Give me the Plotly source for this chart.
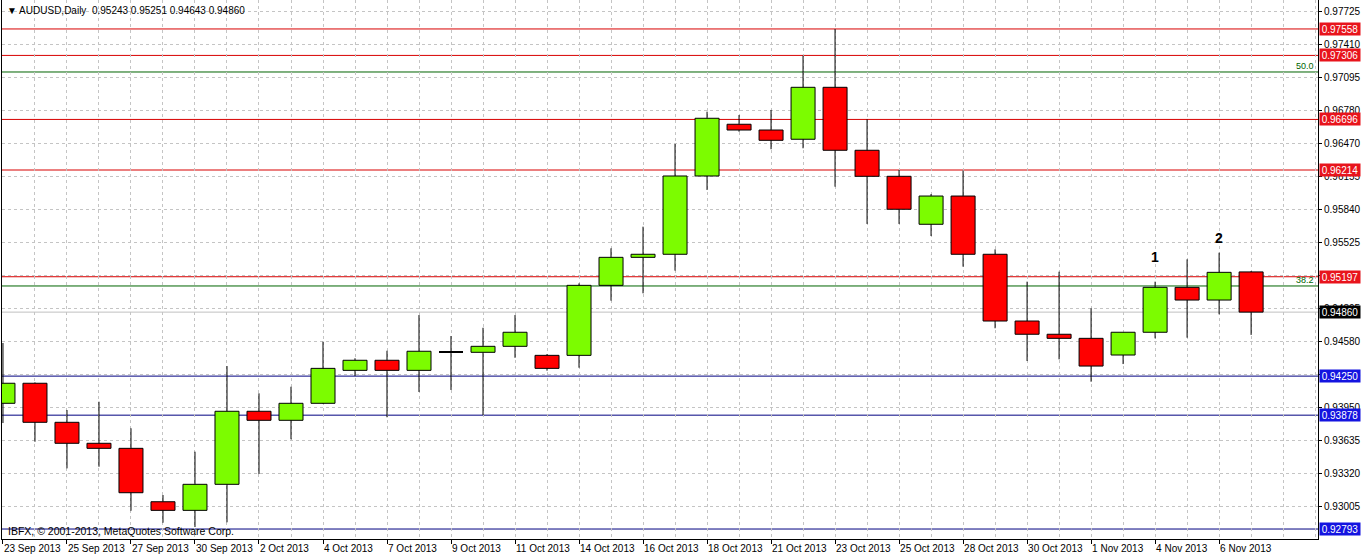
import plotly.graph_objects as go

# ---------------- data ----------------
dates = ["23 Sep 2013", "24 Sep 2013", "25 Sep 2013", "26 Sep 2013", "27 Sep 2013",
         "29 Sep 2013", "30 Sep 2013", "1 Oct 2013", "2 Oct 2013", "3 Oct 2013",
         "4 Oct 2013", "6 Oct 2013", "7 Oct 2013", "8 Oct 2013", "9 Oct 2013",
         "10 Oct 2013", "11 Oct 2013", "13 Oct 2013", "14 Oct 2013", "15 Oct 2013",
         "16 Oct 2013", "17 Oct 2013", "18 Oct 2013", "20 Oct 2013", "21 Oct 2013",
         "22 Oct 2013", "23 Oct 2013", "24 Oct 2013", "25 Oct 2013", "27 Oct 2013",
         "28 Oct 2013", "29 Oct 2013", "30 Oct 2013", "31 Oct 2013", "1 Nov 2013",
         "3 Nov 2013", "4 Nov 2013", "5 Nov 2013", "6 Nov 2013", "7 Nov 2013"]

opens = [0.93991, 0.94182, 0.93810, 0.93610, 0.93562, 0.93053, 0.92971, 0.93219, 0.93915, 0.93829,
         0.93991, 0.94305, 0.94401, 0.94305, 0.94480, 0.94477, 0.94534, 0.94448, 0.94448, 0.95115,
         0.95382, 0.95411, 0.96157, 0.96650, 0.96595, 0.96507, 0.97002, 0.96402, 0.96154, 0.95697,
         0.95966, 0.95411, 0.94775, 0.94649, 0.94610, 0.94451, 0.94668, 0.95096, 0.94975, 0.95243]
highs = [0.94566, 0.94190, 0.93927, 0.94006, 0.93753, 0.93117, 0.93530, 0.94346, 0.94086, 0.94149,
         0.94578, 0.94420, 0.94492, 0.94832, 0.94632, 0.94711, 0.94832, 0.94460, 0.95134, 0.95468,
         0.95674, 0.96462, 0.96770, 0.96738, 0.96786, 0.97304, 0.97558, 0.96697, 0.96214, 0.95985,
         0.96208, 0.95458, 0.95150, 0.95245, 0.94896, 0.94668, 0.95150, 0.95363, 0.95426, 0.95251]
lows = [0.93803, 0.93625, 0.93371, 0.93387, 0.92967, 0.92853, 0.92812, 0.92857, 0.93317, 0.93648,
        0.93985, 0.94251, 0.93858, 0.94099, 0.94118, 0.93879, 0.94425, 0.94302, 0.94330, 0.94969,
        0.95039, 0.95255, 0.96024, 0.96579, 0.96412, 0.96421, 0.96055, 0.95700, 0.95700, 0.95585,
        0.95293, 0.94706, 0.94394, 0.94410, 0.94197, 0.94365, 0.94610, 0.94616, 0.94839, 0.94643]
closes = [0.94182, 0.93810, 0.93610, 0.93562, 0.93139, 0.92971, 0.93219, 0.93915, 0.93829, 0.93991,
          0.94324, 0.94401, 0.94305, 0.94487, 0.94480, 0.94534, 0.94668, 0.94324, 0.95115, 0.95382,
          0.95411, 0.96157, 0.96707, 0.96595, 0.96497, 0.97002, 0.96402, 0.96154, 0.95840, 0.95966,
          0.95411, 0.94775, 0.94649, 0.94610, 0.94346, 0.94668, 0.95096, 0.94975, 0.95239, 0.94860]

ytick_labels = ["0.97725", "0.97410", "0.97095", "0.96780", "0.96470", "0.96155", "0.95840",
                "0.95525", "0.95210", "0.94895", "0.94580", "0.94265", "0.93950", "0.93635",
                "0.93320", "0.93005", "0.92690"]

resistance_levels = [0.97558, 0.97306, 0.96696, 0.96214, 0.95197]
support_levels = [0.94250, 0.93878, 0.92793]
fibo_levels = [0.97148, 0.95109]
fibo_names = ["50.0", "38.2"]
current_price = 0.94860
marker_names = ["1", "2"]
marker_bars = [36, 38]
marker_prices = [0.95385, 0.95570]

# ---------------- styles ----------------
UP = "#7CFC00"
DOWN = "#FF0000"
GRID = "#C4C4C4"
FONT = "Liberation Sans"
BODY_W = 0.75

n = len(dates)
idx = list(range(n))

fig = go.Figure()

# wicks (drawn outside the body so they don't cross the fill)
wx, wy = [], []
for i in idx:
    top = max(opens[i], closes[i])
    bot = min(opens[i], closes[i])
    wx += [i, i, None, i, i, None]
    wy += [highs[i], top, None, bot, lows[i], None]
fig.add_trace(go.Scatter(x=wx, y=wy, mode="lines",
                         line=dict(color="black", width=1), hoverinfo="skip"))

# bodies
bx, bbase, bh, bcol = [], [], [], []
dx, dy = [], []
for i in idx:
    if abs(closes[i] - opens[i]) < 1e-9:
        dx += [i - BODY_W / 2, i + BODY_W / 2, None]
        dy += [opens[i], opens[i], None]
        continue
    bx.append(i)
    bbase.append(min(opens[i], closes[i]))
    bh.append(abs(closes[i] - opens[i]))
    bcol.append(UP if closes[i] > opens[i] else DOWN)
fig.add_trace(go.Bar(x=bx, y=bh, base=bbase, width=BODY_W,
                     marker=dict(color=bcol, line=dict(color="black", width=1)),
                     hoverinfo="skip"))
fig.add_trace(go.Scatter(x=dx, y=dy, mode="lines",
                         line=dict(color="black", width=2), hoverinfo="skip"))

shapes = []
for v in resistance_levels:
    shapes.append(dict(type="line", xref="paper", x0=0, x1=1, yref="y", y0=v, y1=v,
                       line=dict(color="#D80000", width=1), layer="below"))
for v in support_levels:
    shapes.append(dict(type="line", xref="paper", x0=0, x1=1, yref="y", y0=v, y1=v,
                       line=dict(color="#000080", width=1), layer="below"))
for v in fibo_levels:
    shapes.append(dict(type="line", xref="paper", x0=0, x1=1, yref="y", y0=v, y1=v,
                       line=dict(color="#006400", width=1), layer="below"))
shapes.append(dict(type="line", xref="paper", x0=0, x1=1, yref="y", y0=current_price,
                   y1=current_price, line=dict(color="#C0C0C0", width=1), layer="below"))

annotations = []
title_txt = ("\u25BC AUDUSD,Daily\u00a0\u00a0" +
             " ".join(f"{v:.5f}" for v in (opens[-1], highs[-1], lows[-1], closes[-1])))
annotations.append(dict(text=title_txt, xref="paper", yref="paper", x=0, y=1,
                        xanchor="left", yanchor="top", xshift=3, yshift=-3, showarrow=False,
                        font=dict(family=FONT, size=10, color="black")))
annotations.append(dict(text="IBFX, \u00a9 2001-2013, MetaQuotes Software Corp.",
                        xref="paper", yref="paper", x=0, y=0, xanchor="left", yanchor="bottom",
                        xshift=4, yshift=0, showarrow=False,
                        font=dict(family=FONT, size=10.5, color="black")))


def price_box(v, bg):
    return dict(text=f"{v:.5f}", xref="paper", yref="y", x=1, y=v, xanchor="left",
                yanchor="middle", xshift=1, showarrow=False, bgcolor=bg, borderpad=0,
                width=40, height=12, font=dict(family=FONT, size=10, color="white"))


for v in resistance_levels:
    annotations.append(price_box(v, "#E8141C"))
for v in support_levels:
    annotations.append(price_box(v, "#1414E0"))
annotations.append(price_box(current_price, "black"))

for name, v in zip(fibo_names, fibo_levels):
    annotations.append(dict(text=name, xref="paper", yref="y", x=1, y=v, xanchor="right",
                            yanchor="bottom", xshift=-2, yshift=-1, showarrow=False,
                            font=dict(family=FONT, size=9, color="#006400")))

for name, b, v in zip(marker_names, marker_bars, marker_prices):
    annotations.append(dict(text=f"<b>{name}</b>", x=b, y=v, xref="x", yref="y",
                            showarrow=False, font=dict(family=FONT, size=14, color="black")))

fig.update_layout(
    width=1362, height=560,
    margin=dict(l=2, r=44, t=0, b=21),
    paper_bgcolor="white", plot_bgcolor="white",
    showlegend=False, barmode="overlay",
    font=dict(family=FONT, size=10, color="black"),
    shapes=shapes, annotations=annotations,
    xaxis=dict(range=[-0.03, 41.09], tickmode="array",
               tickvals=idx[::2], ticktext=dates[::2], tickangle=0,
               ticks="outside", ticklen=4, tickcolor="black",
               ticklabelposition="outside right",
               showline=True, linecolor="black", linewidth=1,
               showgrid=True, gridcolor=GRID, griddash="3px,3px", gridwidth=1,
               minor=dict(dtick=1, tick0=0, showgrid=True, gridcolor=GRID,
                          griddash="3px,3px", ticks=""),
               zeroline=False, fixedrange=True, automargin=False,
               tickfont=dict(family=FONT, size=10, color="black")),
    yaxis=dict(range=[0.92698, 0.97834], side="right", tickmode="array",
               tickvals=[float(t) for t in ytick_labels], ticktext=ytick_labels,
               ticks="outside", ticklen=3, tickcolor="black",
               showline=True, mirror=True, linecolor="black", linewidth=1,
               showgrid=True, gridcolor=GRID, griddash="3px,3px", gridwidth=1,
               zeroline=False, fixedrange=True, automargin=False,
               tickfont=dict(family=FONT, size=10, color="black")),
)

fig.write_html("out.html", config={"displayModeBar": False},
               post_script=["document.body.style.margin='0';"])
